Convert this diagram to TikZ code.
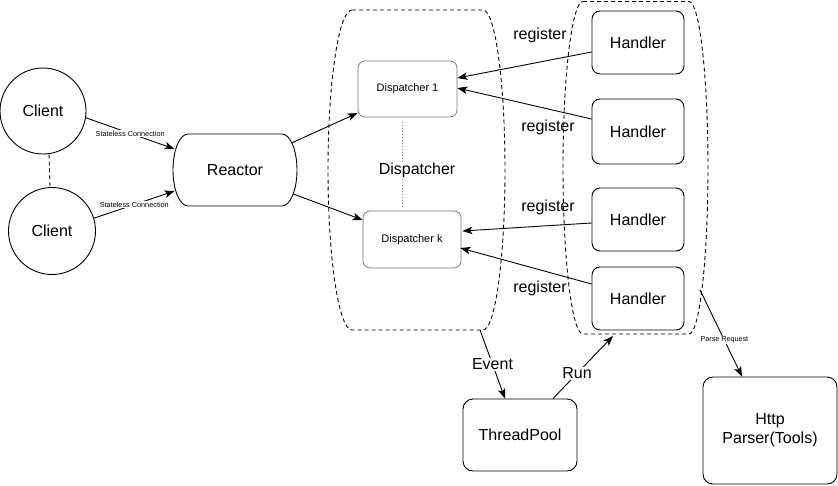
\documentclass[tikz,border=0pt]{standalone}
\usepackage{fontspec}
\setmainfont{Liberation Sans}
\usetikzlibrary{arrows.meta,calc}
\begin{document}
\begin{tikzpicture}[x=1pt,y=-1pt,
  line width=0.9pt,
  every node/.style={font=\fontsize{16}{19}\selectfont},
  box/.style={draw, rounded corners=8pt, align=center, inner sep=0pt},
  client/.style={draw, circle, minimum size=86pt, inner sep=0pt},
  disp/.style={draw=black!55, line width=0.7pt, rounded corners=7pt, inner sep=0pt, font=\fontsize{11}{13}\selectfont},
  arr/.style={-{Stealth[length=10pt,width=7.5pt,inset=2.5pt]}},
  dsh/.style={dash pattern=on 4pt off 3pt},
  lbl/.style={fill=white, inner sep=1pt},
  small/.style={font=\fontsize{7.3}{8.5}\selectfont},
]
\useasboundingbox (0,0) rectangle (838,485);

% group outlines
\draw[dsh] (352,10) -- (483,10) arc[start angle=90,end angle=-90,x radius=22pt,y radius=160pt]
  -- (352,330) arc[start angle=270,end angle=90,x radius=24pt,y radius=160pt] -- cycle;
\draw[dsh] (583,1.5) -- (689,1.5) arc[start angle=90,end angle=-90,x radius=19pt,y radius=166.25pt]
  -- (583,334) arc[start angle=270,end angle=90,x radius=20pt,y radius=166.25pt] -- cycle;
\coordinate (lgrp) at (480,330);
\coordinate (rgrpb) at (613,336);
\coordinate (rgrpr) at (700,290);

% clients
\node[client] (c1) at (43,111) {Client};
\node[client, minimum size=87pt] (c2) at (52,231) {Client};

% reactor
\node[minimum width=124pt, minimum height=72pt, inner sep=0pt] (reactor) at (235,170) {Reactor};
\draw (188,134) -- (282,134) arc[start angle=90,end angle=-90,x radius=15pt,y radius=36pt]
  -- (188,206) arc[start angle=270,end angle=90,x radius=15pt,y radius=36pt] -- cycle;

% dispatchers
\node[disp, minimum width=99pt, minimum height=56pt] (d1) at (407.5,89) {Dispatcher 1};
\node[disp, minimum width=98pt, minimum height=57pt] (dk) at (412,239.5) {Dispatcher k};
\draw[black!45, line width=0.6pt, dash pattern=on 1pt off 2pt]
  ([xshift=-5.5pt,yshift=-5pt]d1.south) -- ([xshift=-10pt,yshift=2pt]dk.north);
\node[lbl] (dlabel) at (417,170) {Dispatcher};

% handlers
\node[box, minimum width=92pt, minimum height=63pt] (h1) at (638,42.5) {Handler};
\node[box, minimum width=92pt, minimum height=65pt] (h2) at (638,131.5) {Handler};
\node[box, minimum width=92pt, minimum height=63pt] (h3) at (638,219.5) {Handler};
\node[box, minimum width=92pt, minimum height=63pt] (h4) at (638,298.5) {Handler};

% bottom boxes
\node[box, rounded corners=10pt, minimum width=114pt, minimum height=72pt] (tp) at (520,435) {ThreadPool};
\node[box, rounded corners=10pt, minimum width=134pt, minimum height=107pt] (http) at (770,430.5) {Http\\Parser(Tools)};

% client connections
\draw[dsh] ([xshift=6pt]c1.south) -- ([xshift=-2pt]c2.north);
\draw[arr] (c1.-9) -- node[lbl, small] {Stateless Connection} ([xshift=2pt,yshift=21pt]reactor.west);
\draw[arr] (c2.17) -- node[lbl, small] {Stateless Connection} ([xshift=2pt,yshift=-21pt]reactor.west);

% reactor to dispatchers
\draw[arr] ([xshift=-6pt,yshift=27pt]reactor.east) -- ([yshift=-24pt]d1.west);
\draw[arr] ([xshift=-4pt,yshift=-24pt]reactor.east) -- ([yshift=19.5pt]dk.west);

% handlers register
\draw[arr] ([yshift=-9.5pt]h1.west) -- ([yshift=11pt]d1.east);
\draw[arr] ([yshift=12.5pt]h2.west) -- ([yshift=1pt]d1.east);
\draw[arr] ([yshift=-3.5pt]h3.west) -- ([xshift=1pt,yshift=8.5pt]dk.east);
\draw[arr] ([yshift=14.5pt]h4.west) -- ([xshift=-1pt,yshift=-8.5pt]dk.east);
\node (r1) at (540,35) {register};
\node (r2) at (548,127) {register};
\node (r3) at (548,207) {register};
\node (r4) at (540,288) {register};

% event / run / parse
\draw[arr] (lgrp) -- node[lbl] {Event} ([xshift=-15pt]tp.north);
\draw[arr] ([xshift=33pt]tp.north) -- node[lbl, pos=0.4] {Run} (rgrpb);
\draw[arr] (rgrpr) -- node[lbl, pos=0.58, font=\fontsize{7.2}{8.5}\selectfont] {Parse Request} ([xshift=-28pt]http.north);
\end{tikzpicture}
\end{document}
